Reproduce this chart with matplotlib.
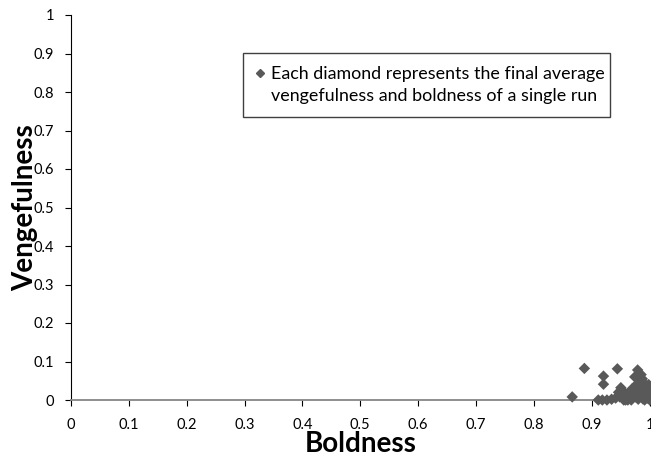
import matplotlib
matplotlib.use("Agg")
import matplotlib.pyplot as plt
from matplotlib.lines import Line2D
from matplotlib.patches import Rectangle

boldness = [0.866, 0.887, 0.920, 0.920, 0.944, 0.911, 0.918, 0.926, 0.934, 0.941,
            0.946, 0.950, 0.953, 0.956, 0.958, 0.960, 0.963, 0.965, 0.968, 0.970,
            0.972, 0.974, 0.975, 0.977, 0.979, 0.980, 0.981, 0.983, 0.984, 0.985,
            0.986, 0.988, 0.989, 0.990, 0.991, 0.992, 0.994, 0.995, 0.996, 0.997,
            0.998, 0.999, 1.000, 1.000, 1.000, 0.948, 0.962, 0.970, 0.978, 0.987,
            0.993, 0.998, 0.955, 0.966, 0.982]
vengefulness = [0.008, 0.082, 0.062, 0.041, 0.081, 0.000, 0.000, 0.000, 0.002, 0.005,
                0.020, 0.032, 0.025, 0.010, 0.000, 0.003, 0.015, 0.005, 0.000, 0.012,
                0.028, 0.060, 0.008, 0.040, 0.078, 0.002, 0.052, 0.020, 0.035, 0.066,
                0.010, 0.003, 0.045, 0.025, 0.000, 0.038, 0.015, 0.030, 0.005, 0.022,
                0.040, 0.012, 0.000, 0.025, 0.018, 0.008, 0.000, 0.030, 0.018, 0.055,
                0.008, 0.030, 0.000, 0.022, 0.010]

xticks = [0, 0.1, 0.2, 0.3, 0.4, 0.5, 0.6, 0.7, 0.8, 0.9, 1]
yticks = [0, 0.1, 0.2, 0.3, 0.4, 0.5, 0.6, 0.7, 0.8, 0.9, 1]
xtick_labels = ["0", "0.1", "0.2", "0.3", "0.4", "0.5", "0.6", "0.7", "0.8", "0.9", "1"]
ytick_labels = ["0", "0.1", "0.2", "0.3", "0.4", "0.5", "0.6", "0.7", "0.8", "0.9", "1"]
legend_text = 'Each diamond represents the final average\nvengefulness and boldness of a single run'

plt.rcParams['font.family'] = ['Lato', 'DejaVu Sans']
W, H = 651, 457
fig = plt.figure(figsize=(W/100, H/100), dpi=100)
ax = fig.add_axes([70.8/W, 57/H, 579/W, 385/H])

color = '#595959'
ax.scatter(boldness, vengefulness, marker='D', s=34, color=color, edgecolors='none',
           clip_on=False, zorder=3)

ax.set_xlim(0, 1)
ax.set_ylim(0, 1)
ax.set_xticks(xticks)
ax.set_xticklabels(xtick_labels, fontsize=10.5)
ax.set_yticks(yticks)
ax.set_yticklabels(ytick_labels, fontsize=10.5)
ax.spines['top'].set_visible(False)
ax.spines['right'].set_visible(False)
ax.spines['left'].set_color('black')
ax.spines['bottom'].set_color('#868686')
ax.spines['bottom'].set_linewidth(1.3)
ax.tick_params(axis='x', length=4, color='black', pad=9)
ax.tick_params(axis='y', length=4, color='black', pad=8)

ax.set_xlabel('Boldness', fontsize=20, fontweight='bold', labelpad=-1)
ax.set_ylabel('Vengefulness', fontsize=20, fontweight='bold', labelpad=-3)

# legend box drawn in figure pixel space
box = Rectangle((243/W, 1 - 117/H), (610-243)/W, 64/H, transform=fig.transFigure,
                facecolor='white', edgecolor='#404040', linewidth=1.0, zorder=5)
fig.add_artist(box)
fig.add_artist(Line2D([260/W], [1 - 73/H], transform=fig.transFigure, marker='D',
                      linestyle='none', color=color, markersize=4.5, zorder=6))
fig.text(271/W, 1 - 85/H, legend_text, fontsize=12.9, linespacing=1.45,
         ha='left', va='center', zorder=6)

fig.savefig('out.png', dpi=100)
